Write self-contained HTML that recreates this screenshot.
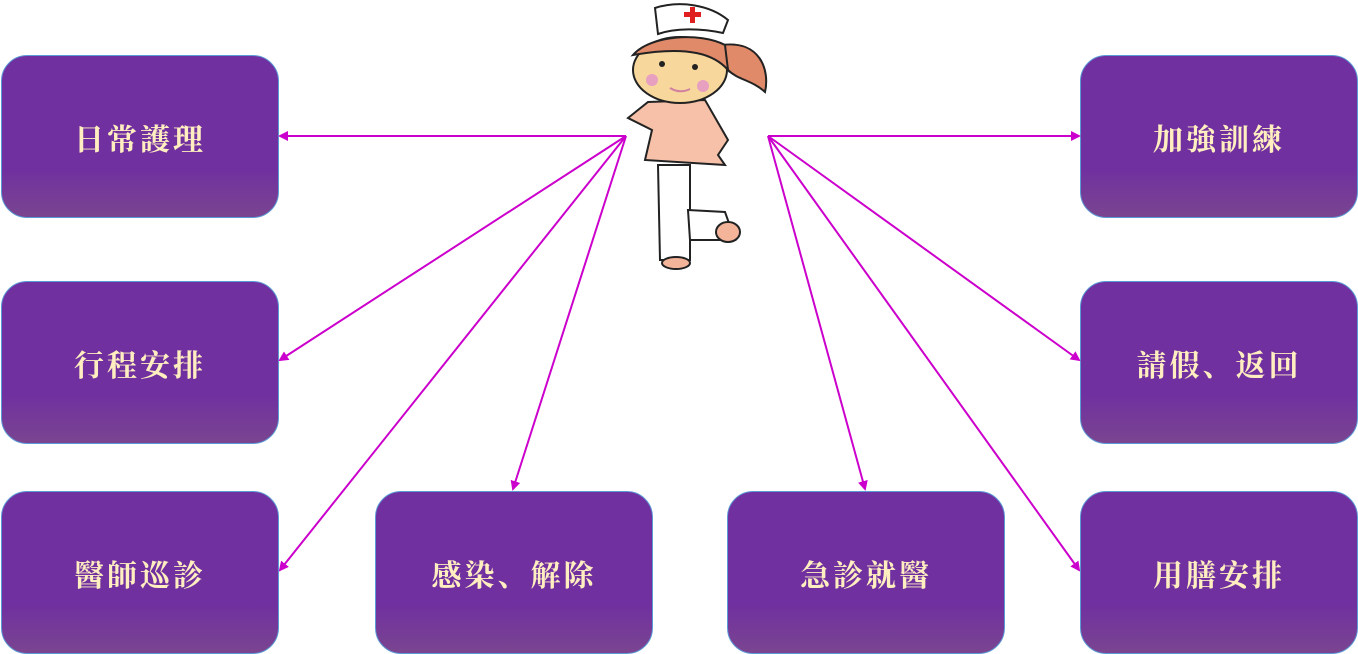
<!DOCTYPE html>
<html><head><meta charset="utf-8"><style>
html,body{margin:0;padding:0;background:#fff;}
body{width:1358px;height:654px;position:relative;overflow:hidden;}
.b{position:absolute;width:278px;height:163px;border:1px solid #5b9bd5;border-radius:26px;box-sizing:border-box;
background:linear-gradient(#7030a0 0%,#7030a0 70%,#7a4590 100%);display:flex;align-items:center;justify-content:center;
color:#ffeec0;font-family:"Noto Serif CJK SC","Noto Serif CJK TC","Liberation Serif",serif;font-weight:bold;font-size:30px;letter-spacing:3px;}
svg{position:absolute;left:0;top:0;}
</style></head><body>
<div class="b" style="left:1px;top:55px">日常護理</div>
<div class="b" style="left:1px;top:281px">行程安排</div>
<div class="b" style="left:1px;top:491px">醫師巡診</div>
<div class="b" style="left:375px;top:491px">感染、解除</div>
<div class="b" style="left:727px;top:491px">急診就醫</div>
<div class="b" style="left:1080px;top:55px">加強訓練</div>
<div class="b" style="left:1080px;top:281px">請假、返回</div>
<div class="b" style="left:1080px;top:491px">用膳安排</div>
<svg width="1358" height="654">
<defs><marker id="a" markerWidth="10" markerHeight="10" refX="8" refY="5" orient="auto" markerUnits="userSpaceOnUse"><path d="M0,0 L10,5 L0,10 z" fill="#cc00cc"/></marker></defs>
<g stroke="#cc00cc" stroke-width="2" fill="none" marker-end="url(#a)">
<line x1="626" y1="136" x2="280" y2="136"/>
<line x1="626" y1="136" x2="280" y2="360"/>
<line x1="626" y1="136" x2="280" y2="570"/>
<line x1="626" y1="136" x2="513" y2="489"/>
<line x1="768" y1="136" x2="1079" y2="136"/>
<line x1="768" y1="136" x2="1079" y2="360"/>
<line x1="768" y1="136" x2="1079" y2="570"/>
<line x1="768" y1="136" x2="865" y2="489"/>
</g>
<g stroke="#222" stroke-width="2">
<path d="M722,45 C760,40 770,70 765,92 C752,80 738,80 728,70 Z" fill="#e08a6a"/>
<path d="M690,165 L658,165 L660,260 L690,260 Z" fill="#fff"/>
<path d="M688,210 L725,212 L735,240 L690,240 Z" fill="#fff"/>
<ellipse cx="728" cy="232" rx="12" ry="10" fill="#f4b49a"/>
<ellipse cx="676" cy="263" rx="14" ry="6" fill="#f4b49a"/>
<path d="M648,102 L705,100 L728,140 L718,155 L725,165 L645,160 L652,130 L628,118 Z" fill="#f6c1a8"/>
<ellipse cx="680" cy="70" rx="47" ry="33" fill="#f7d79b"/>
<path d="M633,55 C650,35 700,32 725,45 L728,70 C715,55 690,45 633,55 Z" fill="#e08a6a"/>
<path d="M655,8 C680,0 710,5 728,20 L723,33 C700,28 675,28 658,34 Z" fill="#fff"/>
</g>
<path d="M684,12 h6 v-5 h5 v5 h6 v5 h-6 v6 h-5 v-6 h-6 z" fill="#e02020"/>
<circle cx="662" cy="64" r="3" fill="#222"/><circle cx="695" cy="67" r="3" fill="#222"/>
<circle cx="652" cy="80" r="6" fill="#e8a0c0"/><circle cx="703" cy="86" r="6" fill="#e8a0c0"/>
<path d="M670,88 Q680,94 690,89" stroke="#d080a0" stroke-width="2" fill="none"/>
</svg>
</body></html>
